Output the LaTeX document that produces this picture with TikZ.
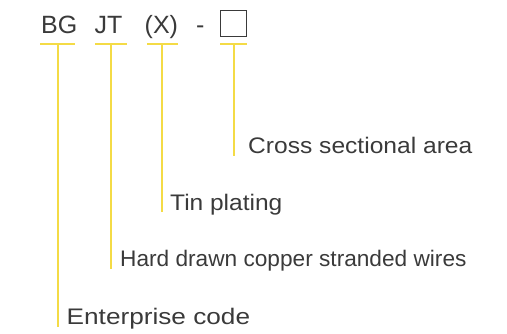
\documentclass[tikz,border=0pt]{standalone}
\usepackage{fontspec}
\setmainfont{Liberation Sans}
\definecolor{codeyellow}{RGB}{244,219,70}
\definecolor{inkgray}{RGB}{58,58,58}
% horizontally stretched label text
\newcommand\stretchtxt[2]{\scalebox{#1}[1]{#2}}
\begin{document}
\begin{tikzpicture}[x=1pt,y=-1pt,
  txt/.style={anchor=base west,inner sep=0pt,text=inkgray,font=\fontsize{25}{30}\selectfont},
  lbl/.style={anchor=base west,inner sep=0pt,text=inkgray,font=\fontsize{22.5}{27}\selectfont},
  lead/.style={draw=codeyellow,line width=2pt},
  boxmark/.style={draw=inkgray,line width=1.5pt}]
\useasboundingbox (0,0) rectangle (507,333);

% model code
\node[txt] (bg) at (41,33.3) {BG};
\node[txt] (jt) at (94.5,33.3) {JT};
\node[txt] (x) at (144.5,33.3) {(X)};
\node[txt] (dash) at (196,33.3) {-};
\draw[boxmark] (220.5,10.5) rectangle (246.5,36.5);

% underlines
\draw[lead] (40,43.5) -- (75,43.5);
\draw[lead] (95,43.5) -- (127,43.5);
\draw[lead] (147,43.5) -- (178,43.5);
\draw[lead] (220,43.5) -- (247,43.5);

% explanations
\node[lbl] (area) at (248,153) {\stretchtxt{1.093}{Cross sectional area}};
\node[lbl] (tin) at (170,210) {\stretchtxt{1.089}{Tin plating}};
\node[lbl] (hard) at (120,266.5) {\stretchtxt{1.007}{Hard drawn copper stranded wires}};
\node[lbl] (ent) at (66.5,324.5) {\stretchtxt{1.164}{Enterprise code}};

% leaders
\coordinate (c1) at (57.5,43.5);
\coordinate (c2) at (110.5,43.5);
\coordinate (c3) at (161.5,43.5);
\coordinate (c4) at (234,43.5);
\draw[lead] (c1) -- (c1 |- 0,327);
\draw[lead] (c2) -- (c2 |- 0,269);
\draw[lead] (c3) -- (c3 |- 0,212);
\draw[lead] (c4) -- (c4 |- 0,155.5);
\end{tikzpicture}
\end{document}
